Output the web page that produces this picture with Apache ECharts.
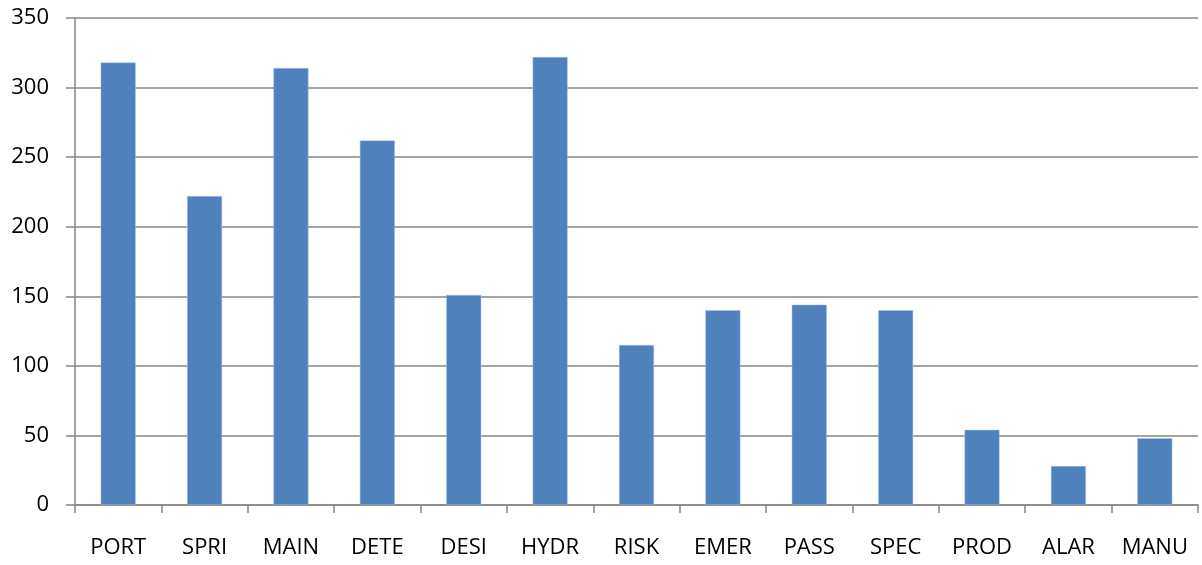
<!DOCTYPE html>
<html>
<head>
<meta charset="utf-8">
<script src="https://cdn.jsdelivr.net/npm/echarts@6/dist/echarts.min.js"></script>
<style>
  html, body { margin: 0; padding: 0; background: #fff; }
  #chart { width: 1202px; height: 565px; }
</style>
</head>
<body>
<div id="chart"></div>
<script>
// categories and values
var categories = ['PORT', 'SPRI', 'MAIN', 'DETE', 'DESI', 'HYDR', 'RISK', 'EMER', 'PASS', 'SPEC', 'PROD', 'ALAR', 'MANU'];
var counts = [318, 222, 314, 262, 151, 322, 115, 140, 144, 140, 54, 28, 48];

var axisGray = '#868686';
var chart = echarts.init(document.getElementById('chart'));

chart.setOption({
    animation: false,
    grid: { left: 75, right: 4, top: 18, bottom: 60 },
    textStyle: { fontFamily: 'Open Sans' },
    xAxis: {
        type: 'category',
        data: categories,
        boundaryGap: true,
        axisLine: { lineStyle: { color: axisGray, width: 1.5 } },
        axisTick: { show: true, length: 8, lineStyle: { color: axisGray, width: 1.5 } },
        axisLabel: { color: '#000', fontSize: 22, margin: 32, interval: 0, fontFamily: 'Open Sans' }
    },
    yAxis: {
        type: 'value',
        min: 0,
        max: 350,
        interval: 50,
        axisLine: { show: true, lineStyle: { color: axisGray, width: 1.5 } },
        axisTick: { show: true, length: 9, lineStyle: { color: axisGray, width: 1.5 } },
        axisLabel: { color: '#000', fontSize: 22, margin: 26, fontFamily: 'Open Sans' },
        splitLine: { show: true, lineStyle: { color: axisGray, width: 1.5 } }
    },
    series: [{
        type: 'bar',
        data: counts,
        barWidth: 35,
        itemStyle: { color: '#4F81BD', borderColor: '#A9C4E6', borderWidth: 0.5 }
    }]
});
</script>
</body>
</html>
